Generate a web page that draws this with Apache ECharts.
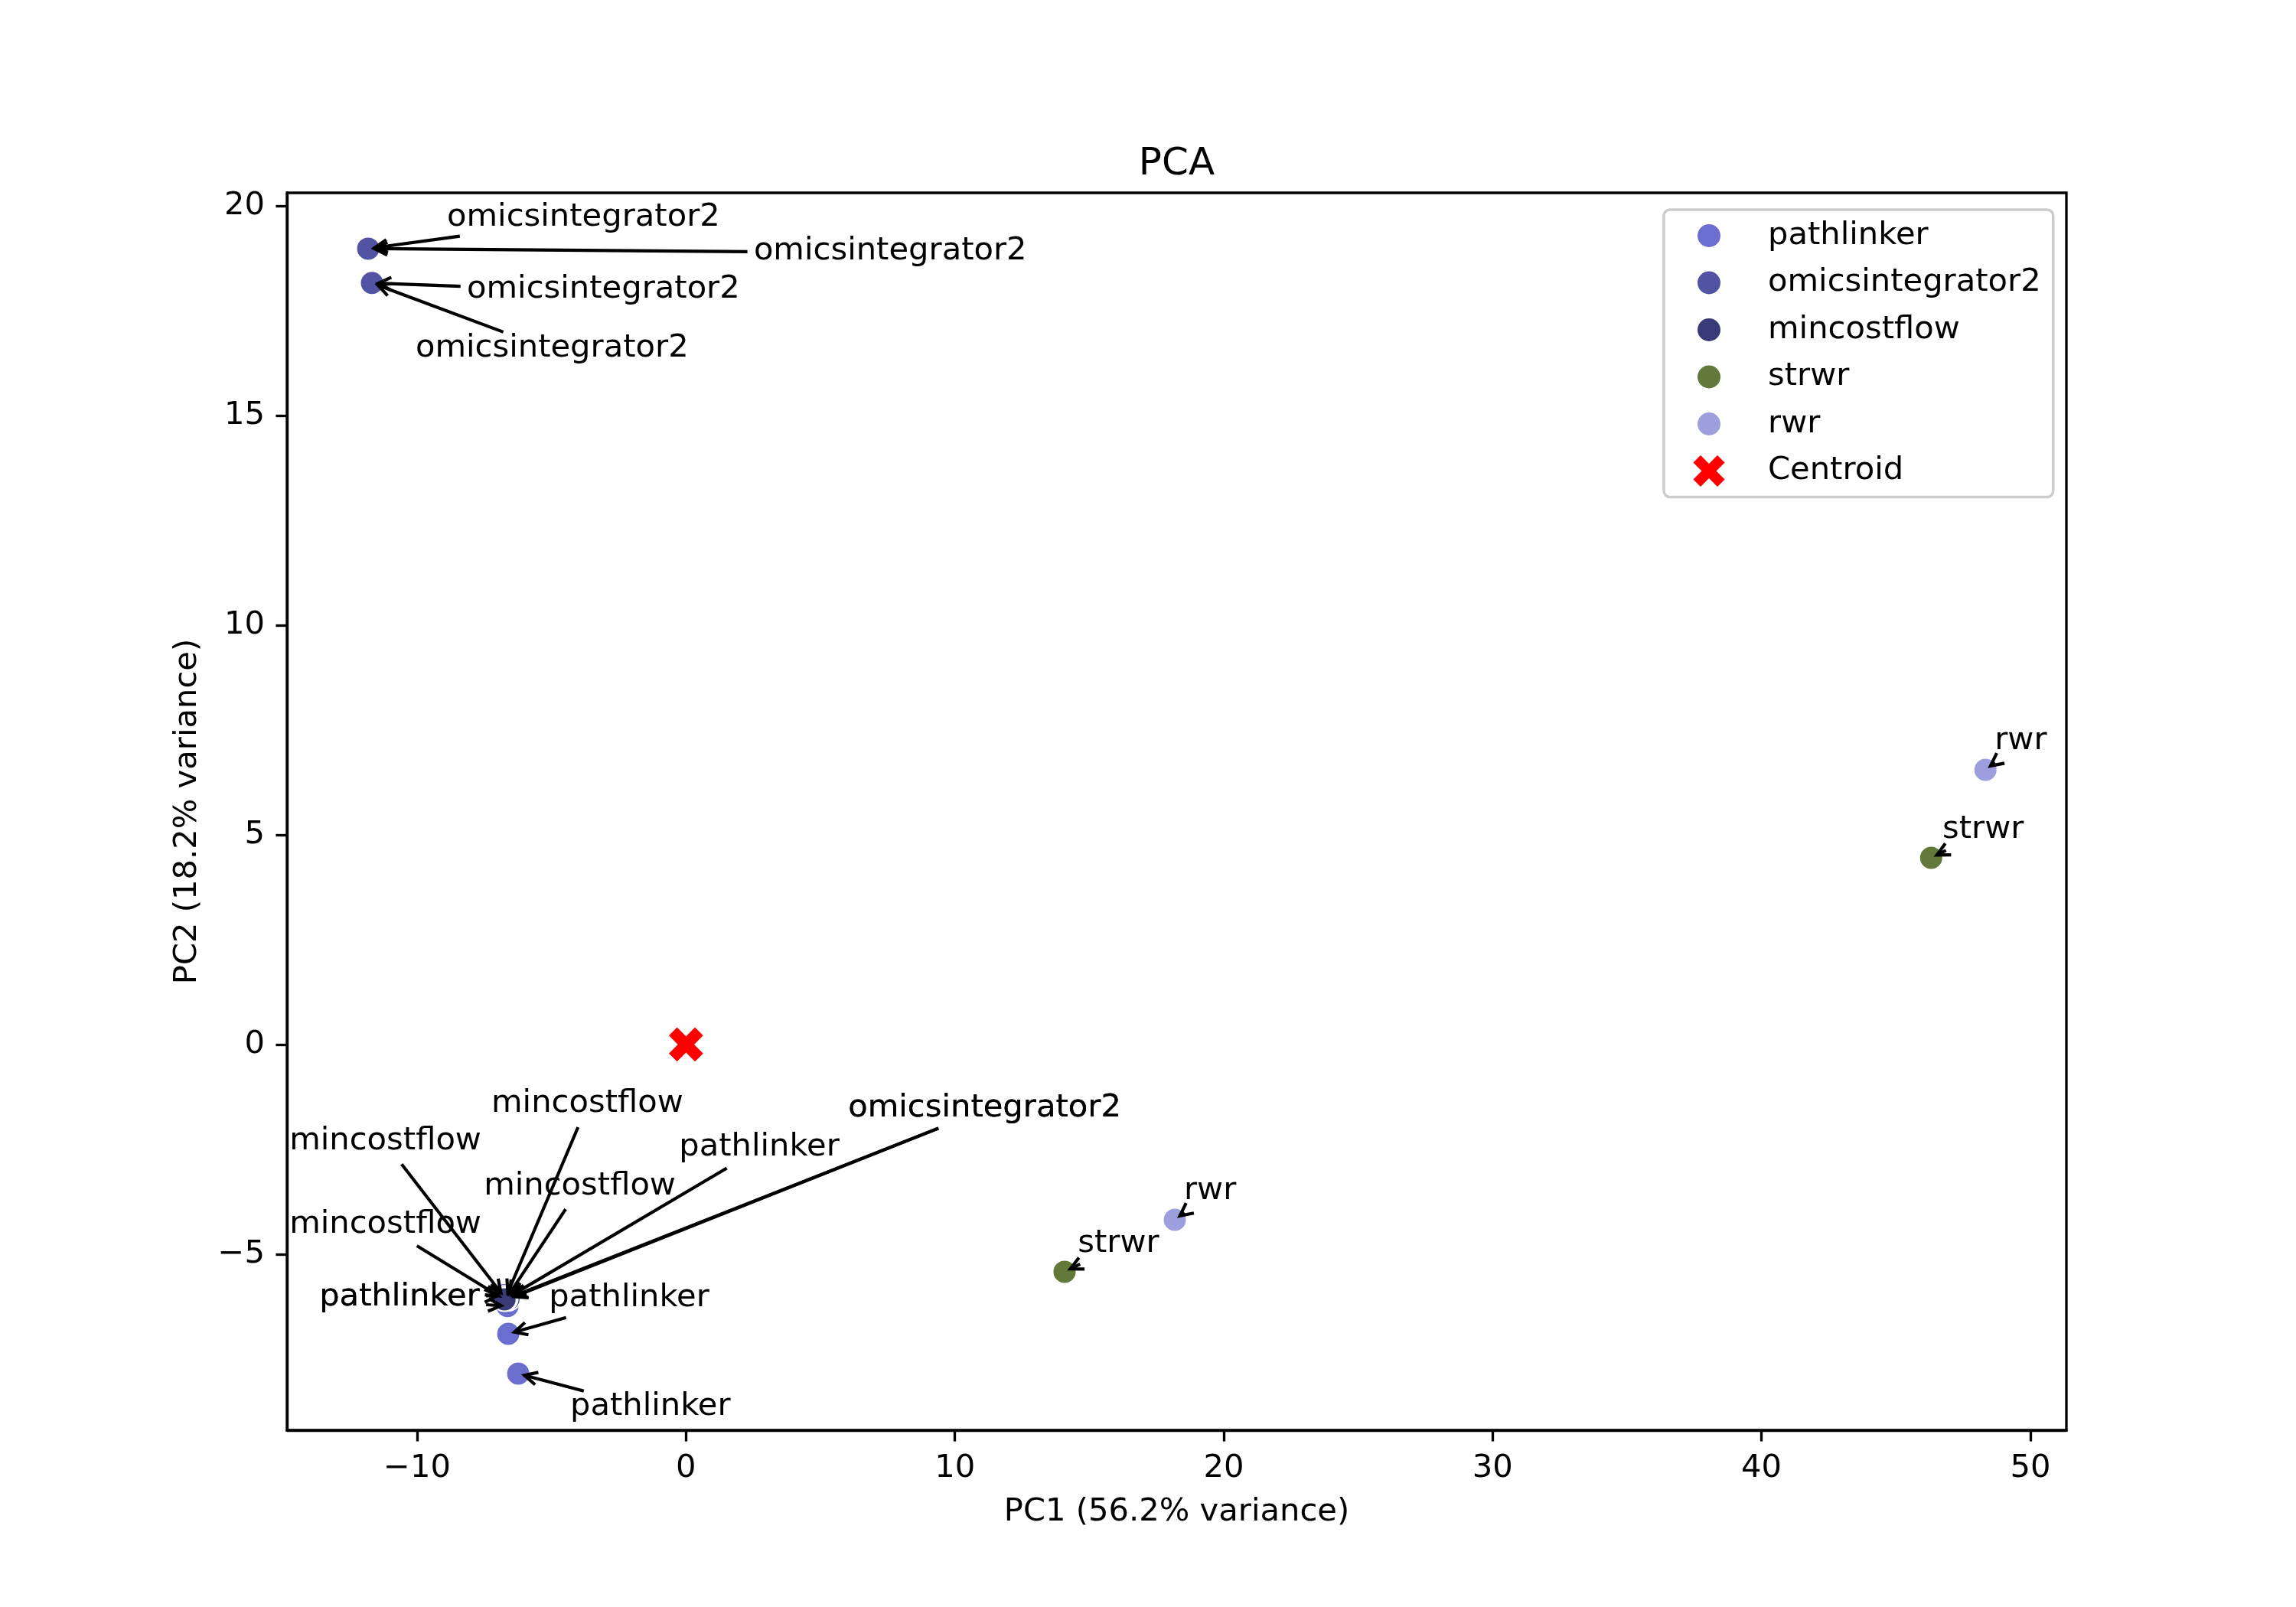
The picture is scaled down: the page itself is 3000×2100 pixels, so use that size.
<!DOCTYPE html>
<html>
<head>
<meta charset="utf-8">
<script src="https://cdn.jsdelivr.net/npm/echarts@6/dist/echarts.min.js"></script>
<style>
  html, body { margin: 0; padding: 0; background: #fff; }
  #chart { width: 3000px; height: 2100px; }
</style>
</head>
<body>
<div id="chart"></div>
<script>
// PC1 / PC2 of each run, and where its annotation text starts (left, baseline)
var pathlinkerX = [-6.66, -6.78, -6.64, -6.61, -6.24];
var pathlinkerY = [-6.05, -5.98, -6.24, -6.90, -7.85];
var pathlinkerTextX = [-0.26, -13.64, -13.64, -5.10, -4.31];
var pathlinkerTextY = [-2.69, -6.27, -6.27, -6.29, -8.88];

var omicsX = [-11.82, -11.82, -11.68, -11.68, -6.62, -6.60];
var omicsY = [18.98, 18.98, 18.16, 18.16, -6.05, -6.07];
var omicsTextX = [-8.89, 2.52, -8.15, -10.06, 6.03, 6.03];
var omicsTextY = [19.48, 18.68, 17.76, 16.36, -1.76, -1.76];

var mincostX = [-6.72, -6.74, -6.70, -6.75];
var mincostY = [-6.06, -6.04, -6.07, -6.08];
var mincostTextX = [-7.24, -14.75, -7.52, -14.75];
var mincostTextY = [-1.65, -2.55, -3.62, -4.54];

var strwrX = [14.08, 46.31];
var strwrY = [-5.42, 4.45];
var strwrTextX = [14.57, 46.73];
var strwrTextY = [-4.99, 4.88];

var rwrX = [18.18, 48.33];
var rwrY = [-4.18, 6.55];
var rwrTextX = [18.52, 48.67];
var rwrTextY = [-3.73, 7.00];

var centroidX = [0];
var centroidY = [0];

var xTicks = [-10, 0, 10, 20, 30, 40, 50];
var yTicks = [-5, 0, 5, 10, 15, 20];

// sizes (300 dpi figure -> px per point)
var PT = 300 / 72;
var FS = 10 * PT;
var FONT = "'DejaVu Sans'";
var MID = 0.32 * FS;            // canvas 'middle' above the baseline
var ASC = 0.76 * FS, DESC = 0.24 * FS;
var SHRINK = 2 * PT;
var HEAD_L = 0.4 * FS, HEAD_W = 0.2 * FS;
var LW = 1 * PT;

var ctx = document.createElement('canvas').getContext('2d');
function textWidth(s, size) {
  ctx.font = (size || FS) + 'px ' + FONT;
  return ctx.measureText(s).width;
}

var groups = [
  { name: 'pathlinker', color: '#6b6ecf', x: pathlinkerX, y: pathlinkerY, tx: pathlinkerTextX, ty: pathlinkerTextY },
  { name: 'omicsintegrator2', color: '#5254a3', x: omicsX, y: omicsY, tx: omicsTextX, ty: omicsTextY },
  { name: 'mincostflow', color: '#393b79', x: mincostX, y: mincostY, tx: mincostTextX, ty: mincostTextY },
  { name: 'strwr', color: '#637939', x: strwrX, y: strwrY, tx: strwrTextX, ty: strwrTextY },
  { name: 'rwr', color: '#9c9ede', x: rwrX, y: rwrY, tx: rwrTextX, ty: rwrTextY }
];

var xMarker = 'path://M-1,-2L0,-1L1,-2L2,-1L1,0L2,1L1,2L0,1L-1,2L-2,1L-1,0L-2,-1Z';
// legend circle drawn smaller than the X: the two bare moves widen its box
var legendCircle = 'path://M-22,-22M22,22M16,0A16,16,0,1,1,-16,0A16,16,0,1,1,16,0Z';

var annoData = [];
var annoLabels = [];
var series = [];
groups.forEach(function (g) {
  series.push({
    name: g.name,
    type: 'scatter',
    symbol: 'circle',
    symbolSize: 31,
    itemStyle: { color: g.color, borderColor: '#fff', borderWidth: 2, opacity: 1 },
    data: g.x.map(function (v, i) { return [v, g.y[i]]; })
  });
  g.x.forEach(function (v, i) {
    annoData.push([g.tx[i], g.ty[i], v, g.y[i]]);
    annoLabels.push(g.name);
  });
});

series.push({
  name: 'Centroid',
  type: 'scatter',
  symbol: xMarker,
  symbolSize: 47,
  itemStyle: { color: '#ff0000', borderColor: '#fff', borderWidth: 1.5, opacity: 1 },
  data: centroidX.map(function (v, i) { return [v, centroidY[i]]; })
});

// text + '->' arrow, clipped at the text box like matplotlib's annotate
function renderAnnotation(params, api) {
  var label = annoLabels[params.dataIndex];
  var base = api.coord([api.value(0), api.value(1)]);
  var tip = api.coord([api.value(2), api.value(3)]);
  var w = textWidth(label);
  var cx = base[0] + w / 2;
  var cy = base[1] - (ASC - DESC) / 2;
  var dx = tip[0] - cx, dy = tip[1] - cy;
  var len = Math.sqrt(dx * dx + dy * dy) || 1;
  var ux = dx / len, uy = dy / len;
  var hw = w / 2, hh = (ASC + DESC) / 2;
  var t = Math.min(
    Math.abs(dx) > 1e-6 ? hw / Math.abs(dx) : Infinity,
    Math.abs(dy) > 1e-6 ? hh / Math.abs(dy) : Infinity
  );
  var children = [{
    type: 'text',
    x: base[0],
    y: base[1] - MID,
    style: {
      text: label, fill: '#000', fontSize: FS, fontFamily: FONT,
      align: 'left', verticalAlign: 'middle'
    }
  }];
  if (t < 1) {
    var sx = cx + dx * t + ux * SHRINK, sy = cy + dy * t + uy * SHRINK;
    var ex = tip[0] - ux * SHRINK, ey = tip[1] - uy * SHRINK;
    children.push({
      type: 'line',
      shape: { x1: sx, y1: sy, x2: ex, y2: ey },
      style: { stroke: '#000', lineWidth: LW }
    });
    children.push({
      type: 'polyline',
      shape: {
        points: [
          [ex - ux * HEAD_L - uy * HEAD_W, ey - uy * HEAD_L + ux * HEAD_W],
          [ex, ey],
          [ex - ux * HEAD_L + uy * HEAD_W, ey - uy * HEAD_L - ux * HEAD_W]
        ]
      },
      style: { stroke: '#000', lineWidth: LW, fill: null }
    });
  }
  return { type: 'group', children: children };
}

series.push({
  name: 'annotations',
  type: 'custom',
  z: 10,
  silent: true,
  renderItem: renderAnnotation,
  encode: { x: [0, 2], y: [1, 3] },
  data: annoData
});

function minusFmt(v) { return String(v).replace('-', '\u2212'); }

var axisCommon = {
  type: 'value',
  splitLine: { show: false },
  axisLine: { show: true, onZero: false, lineStyle: { color: '#000', width: 0.8 * PT } },
  axisTick: { show: true, inside: false, length: 3.5 * PT, lineStyle: { color: '#000', width: 0.8 * PT } },
  nameLocation: 'middle',
  nameTextStyle: { fontSize: FS, fontFamily: FONT, color: '#000', lineHeight: 42 }
};

var option = {
  animation: false,
  backgroundColor: '#fff',
  title: {
    text: 'PCA',
    left: 1537.5 - textWidth('PCA', 12 * PT) / 2,
    top: 190,
    padding: 0,
    textStyle: { fontSize: 12 * PT, fontWeight: 'normal', fontFamily: FONT, color: '#000', lineHeight: 50 }
  },
  grid: {
    left: 375, right: 300, top: 252, bottom: 231,
    show: true, borderColor: '#000', borderWidth: 0.8 * PT, backgroundColor: 'transparent'
  },
  legend: {
    orient: 'vertical',
    left: 2174,
    top: 274,
    padding: [11, 16, 11, 36],
    itemGap: 15.5,
    itemWidth: 94,
    itemHeight: 44,
    backgroundColor: 'rgba(255,255,255,0.8)',
    borderColor: '#cccccc',
    borderWidth: 3.5,
    borderRadius: 8,
    textStyle: { fontSize: FS, fontFamily: FONT, color: '#000', lineHeight: 42, padding: [0, 0, 0, 25] },
    data: [
      { name: 'pathlinker', icon: legendCircle },
      { name: 'omicsintegrator2', icon: legendCircle },
      { name: 'mincostflow', icon: legendCircle },
      { name: 'strwr', icon: legendCircle },
      { name: 'rwr', icon: legendCircle },
      { name: 'Centroid', icon: xMarker }
    ]
  },
  xAxis: Object.assign({}, axisCommon, {
    min: -14.84, max: 51.34,
    name: 'PC1 (56.2% variance)',
    nameGap: 86,
    axisTick: Object.assign({}, axisCommon.axisTick, { customValues: xTicks }),
    axisLabel: { customValues: xTicks, margin: 29, fontSize: FS, fontFamily: FONT, color: '#000', formatter: minusFmt }
  }),
  yAxis: Object.assign({}, axisCommon, {
    min: -9.20, max: 20.31,
    name: 'PC2 (18.2% variance)',
    nameGap: 109,
    axisTick: Object.assign({}, axisCommon.axisTick, { customValues: yTicks }),
    axisLabel: { customValues: yTicks, margin: 29, fontSize: FS, fontFamily: FONT, color: '#000', formatter: minusFmt }
  }),
  series: series
};

var chart = echarts.init(document.getElementById('chart'));
chart.setOption(option);
</script>
</body>
</html>
